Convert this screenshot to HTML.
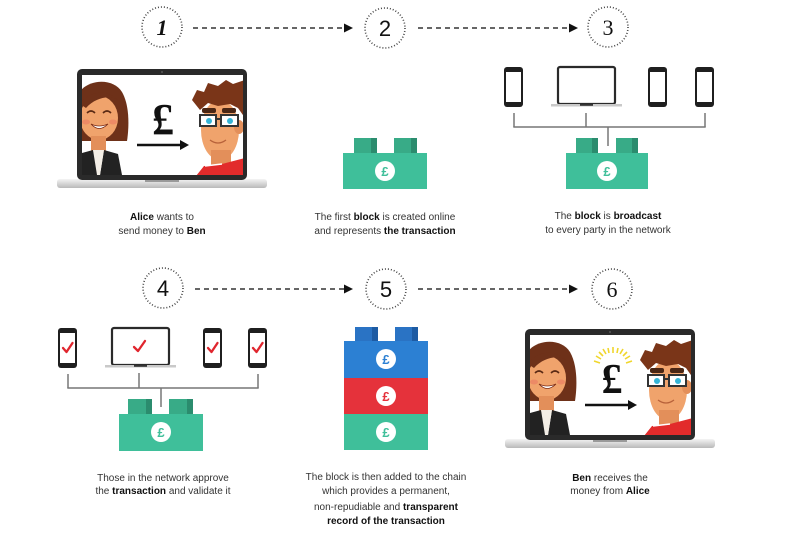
<!DOCTYPE html>
<html><head><meta charset="utf-8"><style>
html,body{margin:0;padding:0;background:#fff;}
svg{display:block;}
text{font-family:"Liberation Sans",sans-serif;}
</style></head><body>
<svg width="800" height="536" viewBox="0 0 800 536" xmlns="http://www.w3.org/2000/svg">
<defs>
<linearGradient id="base" x1="0" y1="0" x2="0" y2="1"><stop offset="0" stop-color="#f4f4f4"/><stop offset="1" stop-color="#b9b9b9"/></linearGradient>
<clipPath id="scr"><rect x="82" y="75" width="161" height="100"/></clipPath>
<g id="laptop">
  <rect x="57" y="179" width="210" height="9" rx="3" fill="url(#base)"/>
  <rect x="145" y="179" width="34" height="3" fill="#9a9a9a"/>
  <rect x="77" y="69" width="170" height="111" rx="5" fill="#2a2a2a"/>
  <rect x="82" y="75" width="161" height="100" fill="#fff"/>
  <g clip-path="url(#scr)">
    <!-- Alice -->
    <path d="M78,95 C84,80 112,76 122,92 C130,106 129,128 127,141 L110,141 L78,141 Z" fill="#6e3119"/>
    <ellipse cx="99" cy="118" rx="19" ry="22" fill="#f0a36c"/>
    <path d="M80,104 C88,92 106,88 118,100 C110,95 96,97 86,108 Z" fill="#6e3119"/>
    <path d="M87,113 q4,-4 8,0" stroke="#5a2a14" stroke-width="1.6" fill="none"/>
    <path d="M103,113 q4,-4 8,0" stroke="#5a2a14" stroke-width="1.6" fill="none"/>
    <ellipse cx="86" cy="122" rx="4" ry="2.5" fill="#ec8a66"/>
    <ellipse cx="113" cy="122" rx="4" ry="2.5" fill="#ec8a66"/>
    <path d="M91,124 Q99,133 108,124 Q99,128 91,124 Z" fill="#fff" stroke="#7a2a14" stroke-width="0.8"/>
    <rect x="91" y="136" width="15" height="16" fill="#e38f5a"/>
    <path d="M82,153 L93,150 L99,175 L82,175 Z" fill="#222"/>
    <path d="M104,150 L118,154 L122,175 L100,175 Z" fill="#222"/>
    <path d="M93,150 L104,150 L100,175 L97,175 Z" fill="#f3eee6"/>
    <!-- Ben -->
    <ellipse cx="220" cy="130" rx="19" ry="30" fill="#f0a36c"/>
    <ellipse cx="239" cy="127" rx="5" ry="7" fill="#e38f5a"/>
    <rect x="211" y="150" width="20" height="16" fill="#e38f5a"/>
    <path d="M192,100 L197,90 L204,92 L208,83 L218,86 L226,80 L233,84 L245,80 L245,118 L238,108 L230,104 L218,106 L208,103 L200,110 Z" fill="#7a3518"/>
    <rect x="202" y="108" width="14" height="5" rx="2" fill="#4a2614"/>
    <rect x="222" y="108" width="14" height="5" rx="2" fill="#4a2614"/>
    <rect x="200" y="115" width="16" height="11" fill="#fff" stroke="#333" stroke-width="2"/>
    <rect x="221" y="115" width="17" height="11" fill="#fff" stroke="#333" stroke-width="2"/>
    <line x1="216" y1="119" x2="221" y2="119" stroke="#333" stroke-width="2"/>
    <circle cx="209" cy="121" r="3" fill="#35b4d6"/>
    <circle cx="230" cy="121" r="3" fill="#35b4d6"/>
    <path d="M210,140 Q218,146 226,140" stroke="#b8623a" stroke-width="1.3" fill="none"/>
    <path d="M196,176 L204,166 L222,164 L245,158 L245,176 Z" fill="#e22b2b"/>
    <path d="M205,166 L222,164" stroke="#fff" stroke-width="1.5"/>
    <!-- arrow -->
    <line x1="137" y1="145" x2="182" y2="145" stroke="#111" stroke-width="2.5"/>
    <path d="M180,140 L189,145 L180,150 Z" fill="#111"/>
  </g>
  <circle cx="162" cy="72" r="0.9" fill="#666"/>
</g>
<g id="phone">
  <rect x="0" y="0" width="19" height="40" rx="3" fill="#1f1f1f"/>
  <rect x="2" y="5" width="15" height="30" fill="#fff"/>
</g>
<g id="mini">
  <rect x="1" y="1" width="57" height="37" rx="2" fill="#fff" stroke="#2a2a2a" stroke-width="2.2"/>
  <rect x="-6" y="38" width="71" height="2.5" fill="#c9c9c9"/>
  <rect x="23" y="38" width="13" height="1.8" fill="#333"/>
</g>
</defs>

<!-- step circles -->
<g fill="none" stroke="#444" stroke-width="1.6" stroke-dasharray="1 2">
  <circle cx="162" cy="27" r="20"/><circle cx="385" cy="28" r="20"/><circle cx="608" cy="27" r="20"/>
  <circle cx="163" cy="288" r="20"/><circle cx="386" cy="289" r="20"/><circle cx="612" cy="289" r="20"/>
</g>
<text x="162" y="35" text-anchor="middle" font-size="22" font-weight="bold" font-style="italic" style="font-family:'Liberation Serif',serif" fill="#111">1</text>
<text x="385" y="36" text-anchor="middle" font-size="22" fill="#111">2</text>
<text x="608" y="35" text-anchor="middle" font-size="22" style="font-family:'Liberation Serif',serif" fill="#111">3</text>
<text x="163" y="296" text-anchor="middle" font-size="22" fill="#111">4</text>
<text x="386" y="297" text-anchor="middle" font-size="22" fill="#111">5</text>
<text x="612" y="297" text-anchor="middle" font-size="22" style="font-family:'Liberation Serif',serif" fill="#111">6</text>

<!-- dashed connectors -->
<g stroke="#333" stroke-width="1.6" stroke-dasharray="5 4" fill="none">
  <line x1="193" y1="28" x2="344" y2="28"/><line x1="418" y1="28" x2="569" y2="28"/>
  <line x1="195" y1="289" x2="344" y2="289"/><line x1="418" y1="289" x2="569" y2="289"/>
</g>
<g fill="#111">
  <path d="M344,23.5 L353,28 L344,32.5 Z"/><path d="M569,23.5 L578,28 L569,32.5 Z"/>
  <path d="M344,284.5 L353,289 L344,293.5 Z"/><path d="M569,284.5 L578,289 L569,293.5 Z"/>
</g>

<!-- laptops -->
<use href="#laptop"/>
<text x="163" y="134" text-anchor="middle" font-size="44" font-weight="bold" style="font-family:'Liberation Serif',serif" fill="#111">£</text>
<use href="#laptop" transform="translate(448,260)"/>
<text x="612" y="393" text-anchor="middle" font-size="42" font-weight="bold" style="font-family:'Liberation Serif',serif" fill="#111">£</text>
<g stroke="#f0d62c" stroke-width="1.6">
  <line x1="594" y1="361" x2="600" y2="363"/><line x1="596" y1="356" x2="601" y2="359"/>
  <line x1="599" y1="352" x2="603" y2="356"/><line x1="603" y1="349" x2="606" y2="354"/>
  <line x1="608" y1="348" x2="609" y2="353"/><line x1="613" y1="347" x2="613" y2="353"/>
  <line x1="618" y1="348" x2="617" y2="353"/><line x1="623" y1="349" x2="620" y2="354"/>
  <line x1="627" y1="352" x2="623" y2="356"/><line x1="630" y1="356" x2="625" y2="359"/>
  <line x1="632" y1="361" x2="626" y2="363"/>
</g>

<!-- step 3 devices -->
<use href="#phone" transform="translate(504,67)"/>
<use href="#mini" transform="translate(557,66)"/>
<use href="#phone" transform="translate(648,67)"/>
<use href="#phone" transform="translate(695,67)"/>
<g stroke="#777" stroke-width="1.5" fill="none">
  <line x1="514" y1="113" x2="514" y2="127"/><line x1="586" y1="113" x2="586" y2="127"/><line x1="705" y1="113" x2="705" y2="127"/>
  <line x1="513.3" y1="127" x2="705.7" y2="127"/><line x1="608" y1="127" x2="608" y2="146"/>
</g>

<!-- step 4 devices -->
<use href="#phone" transform="translate(58,328)"/>
<use href="#mini" transform="translate(111,327)"/>
<use href="#phone" transform="translate(203,328)"/>
<use href="#phone" transform="translate(248,328)"/>
<g stroke="#e0262e" stroke-width="2.3" fill="none" stroke-linecap="round" stroke-linejoin="round">
  <path d="M63,348 L66.5,352 L72.5,343"/><path d="M134,347 L138,351 L145,341"/>
  <path d="M208,348 L211.5,352 L217.5,343"/><path d="M253,348 L256.5,352 L262.5,343"/>
</g>
<g stroke="#777" stroke-width="1.5" fill="none">
  <line x1="68" y1="374" x2="68" y2="388"/><line x1="139" y1="373" x2="139" y2="388"/><line x1="258" y1="374" x2="258" y2="388"/>
  <line x1="67.3" y1="388" x2="258.7" y2="388"/><line x1="161" y1="388" x2="161" y2="407"/>
</g>

<!-- blocks -->
<!-- block 2 -->
<rect x="354" y="138" width="23" height="16" fill="#38ab87"/><rect x="371" y="138" width="6" height="16" fill="#2b8c6e"/>
<rect x="394" y="138" width="23" height="16" fill="#38ab87"/><rect x="411" y="138" width="6" height="16" fill="#2b8c6e"/>
<rect x="343" y="153" width="84" height="36" fill="#3fbf9a"/>
<circle cx="385" cy="171" r="10" fill="#fff"/>
<text x="385" y="176" text-anchor="middle" font-size="13" font-weight="bold" fill="#3fbf9a">£</text>
<!-- block 3 -->
<rect x="576" y="138" width="22" height="16" fill="#38ab87"/><rect x="592" y="138" width="6" height="16" fill="#2b8c6e"/>
<rect x="616" y="138" width="22" height="16" fill="#38ab87"/><rect x="632" y="138" width="6" height="16" fill="#2b8c6e"/>
<rect x="566" y="153" width="82" height="36" fill="#3fbf9a"/>
<circle cx="607" cy="171" r="10" fill="#fff"/>
<text x="607" y="176" text-anchor="middle" font-size="13" font-weight="bold" fill="#3fbf9a">£</text>
<!-- block 4 -->
<rect x="128" y="399" width="24" height="16" fill="#38ab87"/><rect x="146" y="399" width="6" height="16" fill="#2b8c6e"/>
<rect x="169" y="399" width="24" height="16" fill="#38ab87"/><rect x="187" y="399" width="6" height="16" fill="#2b8c6e"/>
<rect x="119" y="414" width="84" height="37" fill="#3fbf9a"/>
<circle cx="161" cy="432" r="10" fill="#fff"/>
<text x="161" y="437" text-anchor="middle" font-size="13" font-weight="bold" fill="#3fbf9a">£</text>
<!-- stack 5 -->
<rect x="355" y="327" width="23" height="15" fill="#2a73c4"/><rect x="372" y="327" width="6" height="15" fill="#1d5ba3"/>
<rect x="395" y="327" width="23" height="15" fill="#2a73c4"/><rect x="412" y="327" width="6" height="15" fill="#1d5ba3"/>
<rect x="344" y="341" width="84" height="37" fill="#2c80d3"/>
<rect x="344" y="378" width="84" height="36" fill="#e5323b"/>
<rect x="344" y="414" width="84" height="36" fill="#3fbf9a"/>
<circle cx="386" cy="359" r="10" fill="#fff"/>
<text x="386" y="364" text-anchor="middle" font-size="13" font-weight="bold" fill="#2c80d3">£</text>
<circle cx="386" cy="396" r="10" fill="#fff"/>
<text x="386" y="401" text-anchor="middle" font-size="13" font-weight="bold" fill="#e5323b">£</text>
<circle cx="386" cy="432" r="10" fill="#fff"/>
<text x="386" y="437" text-anchor="middle" font-size="13" font-weight="bold" fill="#3fbf9a">£</text>

<!-- captions -->
<g font-size="10" fill="#333" text-anchor="middle">
  <text x="162" y="220"><tspan font-weight="bold" fill="#111">Alice</tspan> wants to</text>
  <text x="162" y="234">send money to <tspan font-weight="bold" fill="#111">Ben</tspan></text>
  <text x="385" y="220">The first <tspan font-weight="bold" fill="#111">block</tspan> is created online</text>
  <text x="385" y="234">and represents <tspan font-weight="bold" fill="#111">the transaction</tspan></text>
  <text x="608" y="219">The <tspan font-weight="bold" fill="#111">block</tspan> is <tspan font-weight="bold" fill="#111">broadcast</tspan></text>
  <text x="608" y="233">to every party in the network</text>
  <text x="163" y="481">Those in the network approve</text>
  <text x="163" y="494">the <tspan font-weight="bold" fill="#111">transaction</tspan> and validate it</text>
  <text x="386" y="480">The block is then added to the chain</text>
  <text x="386" y="494">which provides a permanent,</text>
  <text x="386" y="510">non-repudiable and <tspan font-weight="bold" fill="#111">transparent</tspan></text>
  <text x="386" y="524" font-weight="bold" fill="#111">record of the transaction</text>
  <text x="610" y="481"><tspan font-weight="bold" fill="#111">Ben</tspan> receives the</text>
  <text x="610" y="494">money from <tspan font-weight="bold" fill="#111">Alice</tspan></text>
</g>
</svg>
</body></html>
